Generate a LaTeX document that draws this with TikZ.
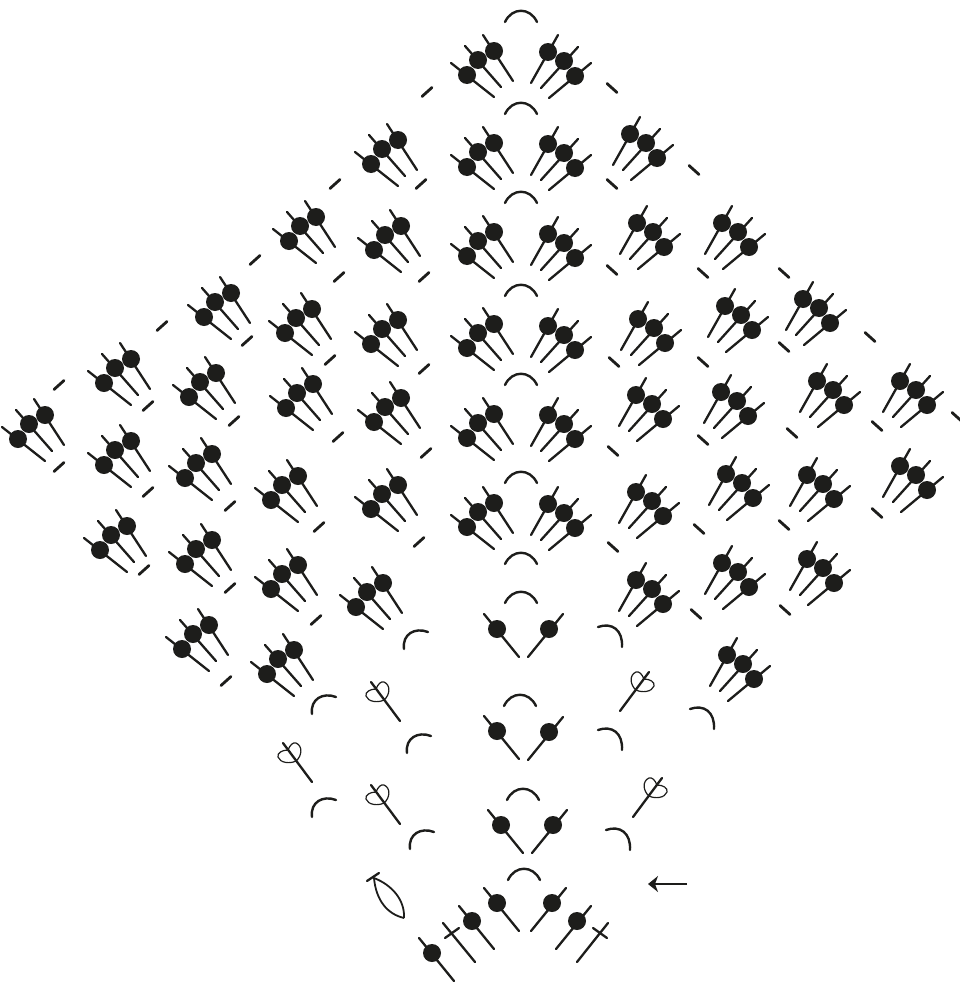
\documentclass[tikz,border=0pt]{standalone}
\usepackage{tikz}
\usetikzlibrary{arrows.meta}
\definecolor{chartInk}{HTML}{1D1D1B}
\newcommand{\beadstick}[3]{%
  \draw[stick] (#2) -- (#3);
  \fill[chartInk] (#1) circle (9pt);
}
\tikzset{
  stick/.style={chartInk, line width=2.3pt, line cap=round},
  dashmark/.style={chartInk, line width=2.8pt, line cap=round},
  chain/.style={chartInk, line width=2.4pt, line cap=round},
  petal/.style={chartInk, line width=1.2pt},
  fanleft/.pic={
    \beadstick{-11,15}{-27,3}{16,37}
    \beadstick{0,0}{-13,-14}{23,27}
    \beadstick{16,-9}{5,-25}{35,21}
  },
  fanright/.pic={
    \beadstick{-16,-9}{-6,-26}{-33,22}
    \beadstick{0,0}{14,-14}{-23,27}
    \beadstick{11,15}{27,2}{-15,37}
  },
  beadleft/.pic={\beadstick{0,0}{-13,-15}{22,28}},
  beadright/.pic={\beadstick{0,0}{14,-15}{-21,28}},
  slashup/.pic={\draw[dashmark] (-5,4.5) -- (5,-4.5);},
  slashdown/.pic={\draw[dashmark] (-5,-4.5) -- (5,4.5);},
  archtop/.pic={\draw[chain] (-16,0) .. controls (-9,-15) and (9,-15) .. (16,0);},
  archleft/.pic={\draw[chain] (0,0) .. controls (-2,-15) and (11,-22) .. (24,-17);},
  archright/.pic={\draw[chain] (0,0) .. controls (14,-5) and (25,3) .. (24,20);},
  loopstem/.pic={
    \draw[stick] (0,0) -- (-29,-39);
    \draw[petal] (-16,-21) .. controls (-10,-26) and (-9,-36) .. (-16,-39) .. controls (-19,-40) and (-22,-37) .. (-24,-32);
    \draw[petal] (-16,-21) .. controls (-22,-18) and (-32,-19) .. (-34,-25) .. controls (-35,-29) and (-30,-32) .. (-24,-32);
  },
}
\begin{document}
\begin{tikzpicture}[x=1pt, y=-1pt]
  \useasboundingbox (0,0) rectangle (959,985);
  \foreach \x/\y in {478/60, 382/149, 478/152, 300/226, 385/235, 478/241,
      215/302, 296/318, 382/329, 478/333, 115/368, 200/382, 297/393, 385/407, 478/423,
      29/424, 115/450, 196/463, 282/485, 382/494, 478/512,
      111/535, 196/549, 282/574, 367/592, 193/634, 278/659}
    {\pic at (\x,\y) {fanleft};}
  \foreach \x/\y in {564/61, 564/153, 646/143, 564/243, 653/232, 738/232,
      564/335, 654/328, 741/315, 819/308, 564/424, 652/404, 737/401, 833/390, 916/390,
      564/513, 652/501, 742/483, 823/484, 916/475, 652/589, 738/572, 823/568, 743/664}
    {\pic at (\x,\y) {fanright};}
  \foreach \x/\y in {497/629, 497/731, 501/825, 497/903, 472/921, 432/953}
    {\pic at (\x,\y) {beadleft};}
  \foreach \x/\y in {549/629, 549/732, 553/825, 552/903, 577/921}
    {\pic at (\x,\y) {beadright};}
  \foreach \x/\y in {427/92, 335/184, 421/184, 255/260, 339/277, 424/277, 162/326, 247/341,
      330/360, 424/369, 59/385, 148/406, 234/421, 338/437, 426/453, 59/467, 148/492,
      230/506, 319/527, 419/542, 144/570, 230/588, 316/620, 226/681}
    {\pic at (\x,\y) {slashup};}
  \foreach \x/\y in {612/88, 694/170, 612/184, 612/270, 703/273, 784/273, 870/337, 614/362,
      703/362, 784/347, 792/433, 877/426, 703/440, 613/451, 957/417, 699/529, 613/547,
      784/525, 877/513, 696/614, 785/610}
    {\pic at (\x,\y) {slashdown};}
  \foreach \x/\y in {521/22, 521/114, 521/203, 521/296, 521/385, 521/483, 521/564, 521/603,
      520/706, 523/800, 524/880}
    {\pic at (\x,\y) {archtop};}
  \foreach \x/\y in {404/649, 312/714, 407/753, 312/817, 410/849}
    {\pic at (\x,\y) {archleft};}
  \foreach \x/\y in {598/627, 598/730, 690/709, 606/830}
    {\pic at (\x,\y) {archright};}
  \foreach \x/\y in {400/721, 312/782, 400/824}
    {\pic at (\x,\y) {loopstem};}
  \foreach \x/\y in {620/711, 633/817}
    {\pic[xscale=-1] at (\x,\y) {loopstem};}
  \draw[stick] (443,923) -- (475,962);
  \draw[stick] (445,938) -- (459,928);
  \draw[stick] (608,923) -- (577,962);
  \draw[stick] (593,928) -- (607,938);
  \draw[stick] (367,881) -- (379,873);
  \draw[petal, line width=1.8pt] (374,878) .. controls (376,900) and (387,914) .. (404,918);
  \draw[petal, line width=1.8pt] (374,878) .. controls (392,885) and (405,900) .. (404,918);
  \coordinate (arrowtail) at (687,884);
  \coordinate (arrowtip) at (648,884);
  \draw[chartInk, line width=2.4pt, -{Stealth[length=10pt, width=16pt, inset=3pt]}] (arrowtail) -- (arrowtip);
\end{tikzpicture}
\end{document}
